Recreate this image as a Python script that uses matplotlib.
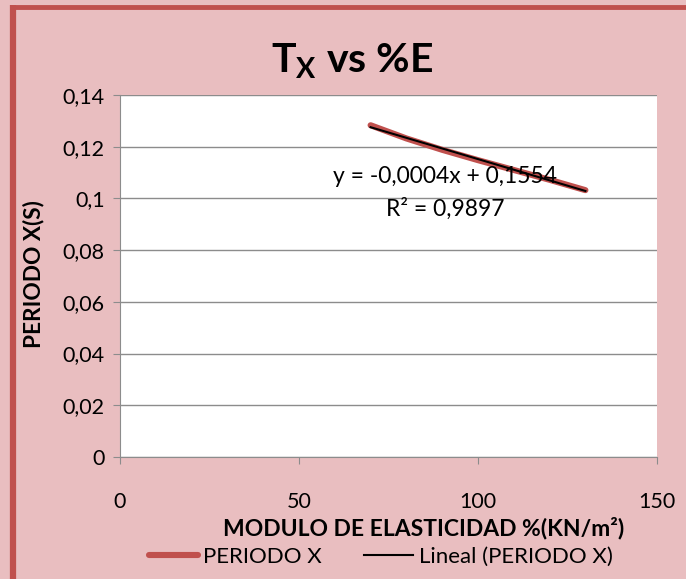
import numpy as np
import matplotlib
matplotlib.use("Agg")
import matplotlib.pyplot as plt
from matplotlib.ticker import FuncFormatter, MultipleLocator
from matplotlib.lines import Line2D

# %% Data
modulo = [70, 80, 90, 100, 110, 120, 130]               # %(KN/m2)
periodo_x = [0.1283, 0.1232, 0.1188, 0.1148, 0.1110, 0.1072, 0.1032]  # s
eq_text = "y = -0,0004x + 0,1554"
r2_text = "R\u00b2 = 0,9897"

# %% Style
plt.rcParams['font.family'] = ['Lato', 'DejaVu Sans']
bg = '#E9BEC0'
red = '#C0504D'
grid = '#8C8C8C'
fontsize = 15.5
W, H = 686, 579

def comma(v, pos):
    return f"{v:g}".replace('.', ',')

fig = plt.figure(figsize=(W/100, H/100), dpi=100, facecolor=bg)
# red frame (only left and top edges show)
top = 1 - 6.5/H
fig.lines.append(Line2D([13/W, 13/W], [0, top + 2/H], color=red,
                        linewidth=4.5, transform=fig.transFigure,
                        solid_capstyle='butt'))
fig.lines.append(Line2D([11/W, 1.0], [top, top], color=red,
                        linewidth=3.5, transform=fig.transFigure,
                        solid_capstyle='butt'))

ax = fig.add_axes([120/W, 1 - 457/H, 537/W, 362/H])
ax.set_facecolor('white')

ax.plot(modulo, periodo_x, color=red, linewidth=4.4,
        solid_capstyle='round', label='PERIODO X', zorder=3)

# linear trend, as Excel adds it
k, b = np.polyfit(modulo, periodo_x, 1)
xt = np.array([min(modulo), max(modulo)])
ax.plot(xt, k*xt + b, color='black', linewidth=1.5,
        label='Lineal (PERIODO X)', zorder=4)

ax.text(90.8, 0.1083, eq_text, ha='center', va='center', fontsize=16.5,
        zorder=5)
ax.text(90.8, 0.0959, r2_text, ha='center', va='center', fontsize=16.5,
        zorder=5)

ax.set_xlim(0, 150)
ax.set_ylim(0, 0.14)
ax.xaxis.set_major_locator(MultipleLocator(50))
ax.yaxis.set_major_locator(MultipleLocator(0.02))
ax.xaxis.set_major_formatter(FuncFormatter(comma))
ax.yaxis.set_major_formatter(FuncFormatter(comma))
ax.grid(axis='y', color=grid, linewidth=1)
ax.set_axisbelow(True)
for side in ['top', 'right']:
    ax.spines[side].set_visible(False)
for side in ['left', 'bottom']:
    ax.spines[side].set_color(grid)
ax.tick_params(axis='both', colors=grid, labelcolor='black',
               labelsize=fontsize, length=5, direction='out')
ax.tick_params(axis='x', pad=20)
ax.tick_params(axis='y', pad=6)

ax.set_xlabel("MODULO DE ELASTICIDAD %(KN/m\u00b2)", fontsize=16.5,
              fontweight='bold')
ax.xaxis.set_label_coords(0.566, -0.165)
ax.set_ylabel("PERIODO X(S)", fontsize=16.3, fontweight='bold')
ax.yaxis.set_label_coords(-0.14, 0.505)

fig.text(0.513, 1 - 72/H, "T$_\\mathregular{X}$ vs %E", ha='center',
         va='baseline', fontsize=29.5, fontweight='bold')

fig.legend(loc='center', bbox_to_anchor=(0.555, 1 - 557/H), ncol=2,
           frameon=False, fontsize=16, handlelength=2.2,
           handletextpad=0.25, columnspacing=1.9)

plt.savefig("out.png", dpi=100, facecolor=bg)
